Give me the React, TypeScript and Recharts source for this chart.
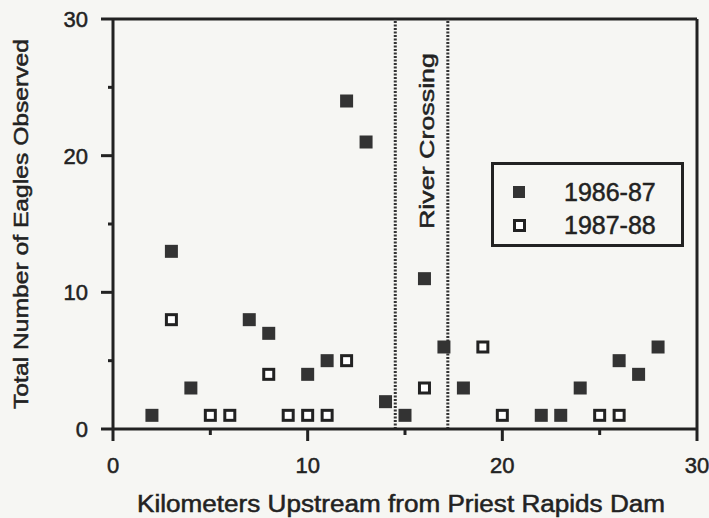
import { ScatterChart, Scatter, XAxis, YAxis, ReferenceLine, ReferenceArea, Legend, Label } from "recharts";

const season1Km = [2, 3, 4, 7, 8, 10, 11, 12, 13, 14, 15, 16, 17, 18, 22, 23, 24, 26, 27, 28];
const season1Count = [1, 13, 3, 8, 7, 4, 5, 24, 21, 2, 1, 11, 6, 3, 1, 1, 3, 5, 4, 6];
const season2Km = [3, 5, 6, 8, 9, 10, 11, 12, 16, 19, 20, 25, 26];
const season2Count = [8, 1, 1, 4, 1, 1, 1, 5, 3, 6, 1, 1, 1];

const axisTicks = [0, 5, 10, 15, 20, 25, 30];
const crossing = [14.5, 17.2];

const seasons = ["1986-87", "1987-88"];

const data1 = season1Km.map((km, i) => ({ x: km, y: season1Count[i] }));
const data2 = season2Km.map((km, i) => ({ x: km, y: season2Count[i] }));

const font = '"Liberation Sans", Arial, Helvetica, sans-serif';
const ink = "#222";

const FilledSquare = (props: any) => (
  <rect x={props.cx - 6.5} y={props.cy - 6.5} width={13} height={13} fill="#333" />
);

const OpenSquare = (props: any) => (
  <rect x={props.cx - 5} y={props.cy - 5} width={10} height={10} fill="#fff" stroke="#222" strokeWidth={3} />
);

const XTick = (props: any) => {
  const { x, y, payload } = props;
  const major = payload.value % 10 === 0;
  return (
    <g>
      <line x1={x} y1={y} x2={x} y2={y + (major ? 12 : 6)} stroke={ink} strokeWidth={3} />
      {major && (
        <text x={x} y={y + 44} textAnchor="middle" fontFamily={font} fontSize={22} fill={ink} stroke={ink} strokeWidth={0.5}>
          {payload.value}
        </text>
      )}
    </g>
  );
};

const YTick = (props: any) => {
  const { x, y, payload } = props;
  const major = payload.value % 10 === 0;
  return (
    <g>
      <line x1={x - (major ? 12 : 5)} y1={y} x2={x} y2={y} stroke={ink} strokeWidth={3} />
      {major && (
        <text x={x - 25} y={y + 8} textAnchor="end" fontFamily={font} fontSize={22} fill={ink} stroke={ink} strokeWidth={0.5}>
          {payload.value}
        </text>
      )}
    </g>
  );
};

const LegendBox = (props: any) => {
  const { payload } = props;
  return (
    <div
      style={{
        width: 193,
        height: 85,
        boxSizing: "border-box",
        border: `3px solid ${ink}`,
        position: "relative",
        fontFamily: font,
        fontSize: 25,
        color: ink,
        WebkitTextStroke: `0.5px ${ink}`,
      }}
    >
      {(payload || []).map((entry: any, i: number) => (
        <div key={entry.value} style={{ position: "absolute", left: 0, top: 12 + i * 33, height: 30, width: "100%" }}>
          <div
            style={{
              position: "absolute",
              left: 19,
              top: 9,
              width: i === 0 ? 12 : 7,
              height: i === 0 ? 12 : 7,
              background: i === 0 ? "#333" : "#fff",
              border: i === 0 ? "none" : "3px solid #222",
            }}
          />
          <span style={{ position: "absolute", left: 70, top: 0, lineHeight: "30px" }}>{entry.value}</span>
        </div>
      ))}
    </div>
  );
};

export default function App() {
  return (
    <div style={{ position: "absolute", left: 0, top: 0, width: 709, height: 518, background: "#f6f6f3" }}>
      <ScatterChart width={709} height={518} margin={{ top: 19, right: 12, bottom: 0, left: 0 }}>
        <XAxis
          type="number"
          dataKey="x"
          domain={[0, 30]}
          ticks={axisTicks}
          height={89}
          tickSize={0}
          tickMargin={0}
          tickLine={false}
          axisLine={{ stroke: ink, strokeWidth: 3 }}
          tick={<XTick />}
          interval={0}
        >
          <Label
            content={(p: any) => (
              <text
                x={p.viewBox.x + p.viewBox.width / 2 - 4}
                y={p.viewBox.y + 83}
                textAnchor="middle"
                fontFamily={font}
                fontSize={23}
                fill={ink}
                stroke={ink}
                strokeWidth={0.5}
                textLength={528}
                lengthAdjust="spacingAndGlyphs"
              >
                Kilometers Upstream from Priest Rapids Dam
              </text>
            )}
          />
        </XAxis>
        <YAxis
          type="number"
          dataKey="y"
          domain={[0, 30]}
          ticks={axisTicks}
          width={113}
          tickSize={0}
          tickMargin={0}
          tickLine={false}
          axisLine={{ stroke: ink, strokeWidth: 3 }}
          tick={<YTick />}
          interval={0}
        >
          <Label
            content={(p: any) => {
              const cx = 28;
              const cy = p.viewBox.y + p.viewBox.height / 2;
              return (
                <text
                  x={cx}
                  y={cy}
                  transform={`rotate(-90, ${cx}, ${cy})`}
                  textAnchor="middle"
                  fontFamily={font}
                  fontSize={21}
                  fill={ink}
                  stroke={ink}
                  strokeWidth={0.5}
                  textLength={370}
                  lengthAdjust="spacingAndGlyphs"
                >
                  Total Number of Eagles Observed
                </text>
              );
            }}
          />
        </YAxis>
        <ReferenceLine y={30} stroke={ink} strokeWidth={3} />
        <ReferenceLine x={30} stroke={ink} strokeWidth={3} />
        <ReferenceArea
          x1={crossing[0]}
          x2={crossing[1]}
          y1={0}
          y2={30}
          fill="none"
          stroke="none"
          label={(p: any) => {
            const cx = p.viewBox.x + p.viewBox.width / 2 + 12.5;
            const cy = p.viewBox.y + 122;
            return (
              <text
                x={cx}
                y={cy}
                transform={`rotate(-90, ${cx}, ${cy})`}
                textAnchor="middle"
                fontFamily={font}
                fontSize={21}
                fill={ink}
                stroke={ink}
                strokeWidth={0.5}
                textLength={176}
                lengthAdjust="spacingAndGlyphs"
              >
                River Crossing
              </text>
            );
          }}
        />
        {crossing.map((km) => (
          <ReferenceLine key={km} x={km} stroke="#333" strokeWidth={3} strokeDasharray="2 1.5" />
        ))}
        <Scatter name={seasons[0]} data={data1} shape={<FilledSquare />} fill="#333" isAnimationActive={false} />
        <Scatter name={seasons[1]} data={data2} shape={<OpenSquare />} fill="#fff" isAnimationActive={false} />
        <Legend
          layout="vertical"
          align="center"
          verticalAlign="middle"
          content={<LegendBox />}
          wrapperStyle={{ position: "absolute", left: 491, top: 162, width: 193, height: 85 }}
        />
      </ScatterChart>
    </div>
  );
}
